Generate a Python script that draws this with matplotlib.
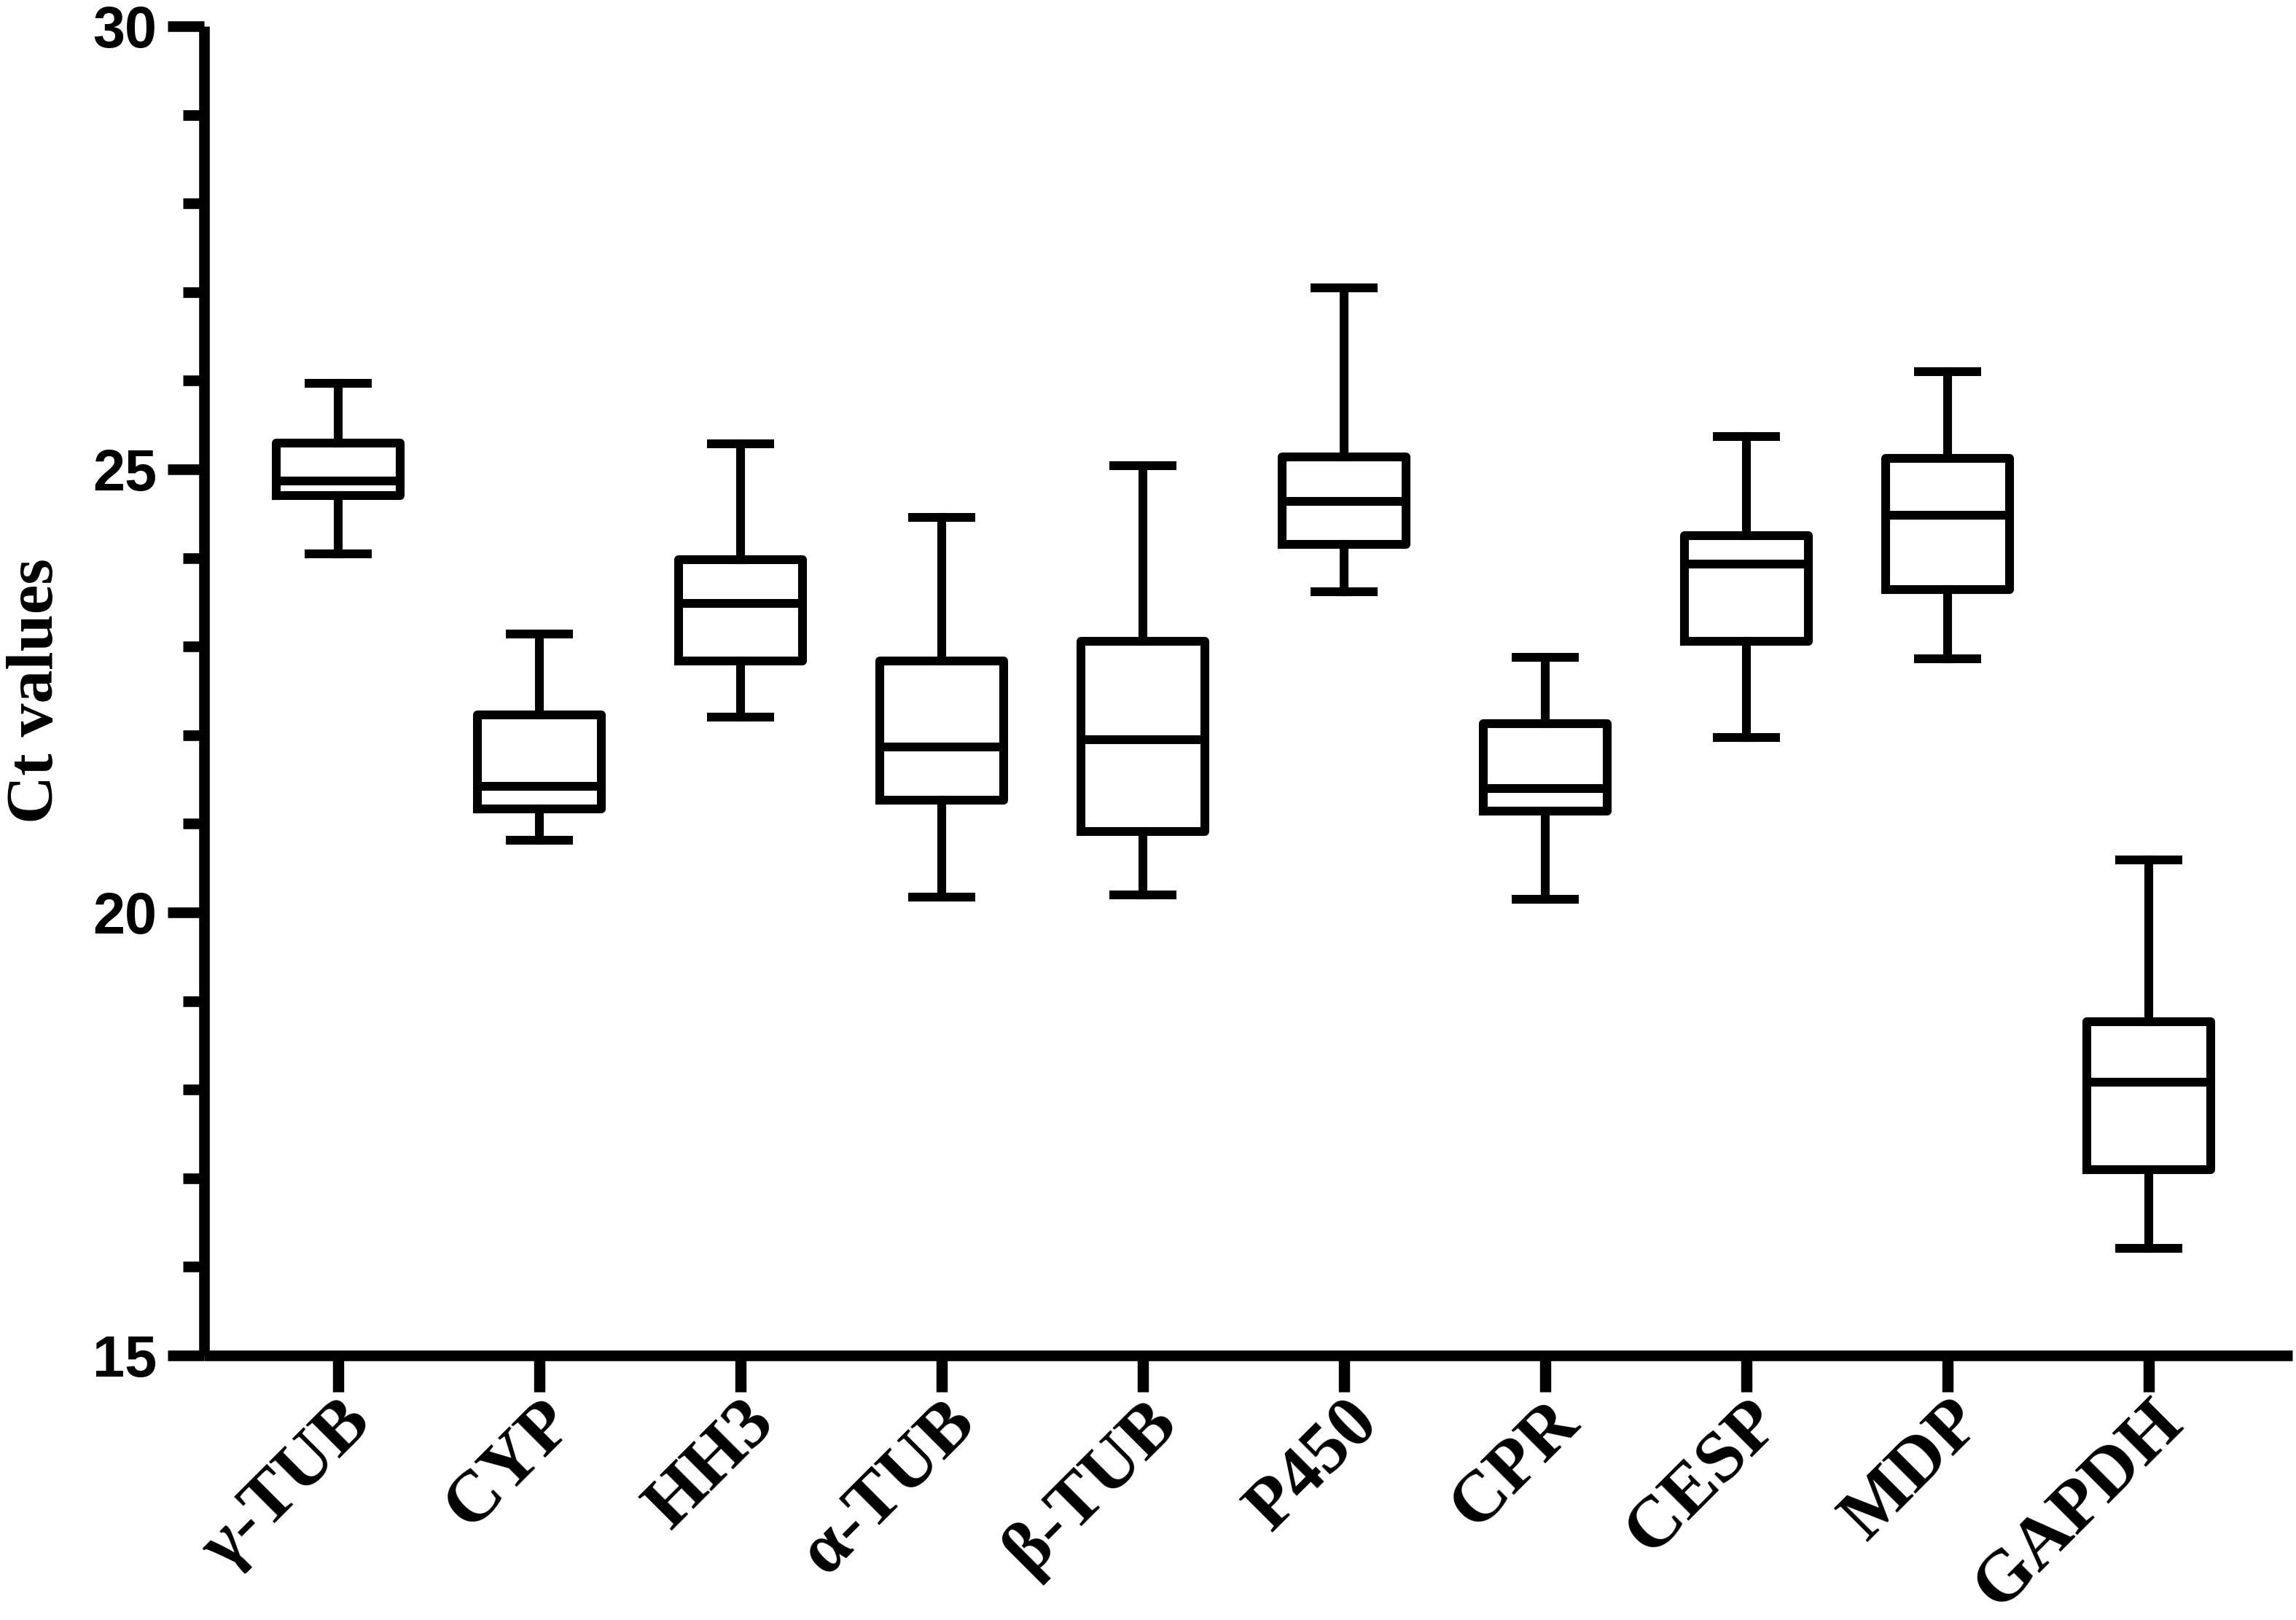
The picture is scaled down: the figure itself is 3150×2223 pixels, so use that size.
import matplotlib
matplotlib.use("Agg")
import matplotlib.pyplot as plt
from matplotlib.ticker import MultipleLocator

genes = ["γ-TUB", "CYP", "HH3", "α-TUB", "β-TUB", "P450", "CPR", "CESP", "MDP", "GAPDH"]
whisker_hi = [25.97, 23.14, 25.29, 24.46, 25.04, 27.05, 22.88, 25.37, 26.10, 20.59]
q3 = [25.30, 22.23, 23.98, 22.84, 23.06, 25.14, 22.13, 24.25, 25.12, 18.77]
median = [24.87, 21.42, 23.49, 21.87, 21.95, 24.64, 21.40, 23.93, 24.48, 18.08]
q1 = [24.70, 21.17, 22.84, 21.27, 20.91, 24.15, 21.14, 23.06, 23.64, 17.10]
whisker_lo = [24.05, 20.81, 22.20, 20.17, 20.20, 23.62, 20.15, 21.97, 22.86, 16.21]

stats = []
for i, g in enumerate(genes):
    stats.append(dict(label=g, med=median[i], q1=q1[i], q3=q3[i],
                      whislo=whisker_lo[i], whishi=whisker_hi[i], fliers=[]))

fig = plt.figure(figsize=(10.5, 7.41), dpi=300)
ax = fig.add_axes([0.0889, 0.1633, 0.9095, 0.8205])

lw = 2.9
ax.bxp(stats, positions=range(len(genes)), widths=0.616, showfliers=False,
       boxprops=dict(color="black", linewidth=lw),
       medianprops=dict(color="black", linewidth=lw, solid_capstyle="butt"),
       whiskerprops=dict(color="black", linewidth=lw),
       capprops=dict(color="black", linewidth=lw, solid_capstyle="butt"),
       capwidths=0.333)

ax.set_xlim(-0.667, 9.714)
ax.set_ylim(15, 30)
ax.spines["top"].set_visible(False)
ax.spines["right"].set_visible(False)
for s in ["left", "bottom"]:
    ax.spines[s].set_linewidth(3.5)
    ax.spines[s].set_capstyle("butt")

ax.yaxis.set_major_locator(MultipleLocator(5))
ax.yaxis.set_minor_locator(MultipleLocator(1))
ax.tick_params(axis="y", which="major", length=12, width=3.5, pad=3.5)
ax.tick_params(axis="y", which="minor", length=7, width=3.5)
ax.tick_params(axis="x", which="major", length=12, width=3.7, pad=-1)

ax.set_xticks(range(len(genes)))
ax.set_xticklabels(genes, rotation=45, ha="right", rotation_mode="anchor",
                   fontfamily="Liberation Serif", fontweight="bold", fontsize=24)
for lab in ax.get_yticklabels():
    lab.set_fontfamily("Liberation Sans")
    lab.set_fontweight("bold")
    lab.set_fontsize(19)

ax.set_ylabel("Ct values", fontfamily="Liberation Serif", fontweight="bold", fontsize=22)
ax.yaxis.set_label_coords(-0.066, 0.5)

fig.savefig("out.png", dpi=300)
